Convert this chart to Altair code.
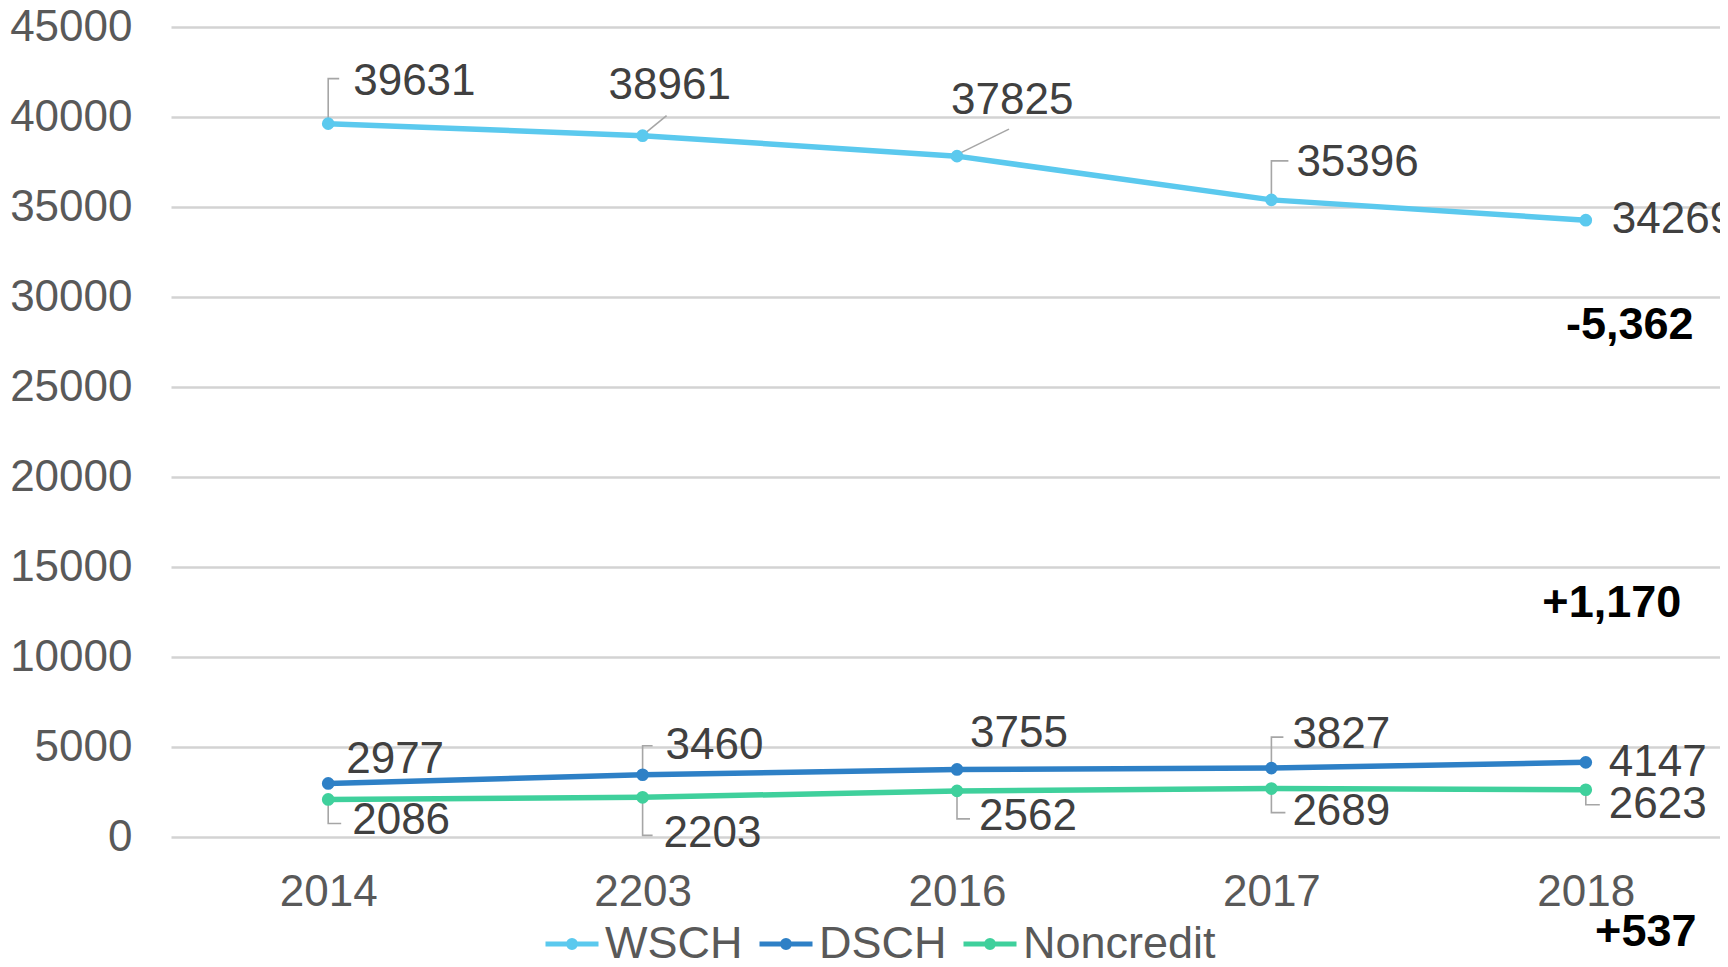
import altair as alt
import pandas as pd

# ---------------- data ----------------
YEARS = ["2014", "2203", "2016", "2017", "2018"]
SERIES = ["WSCH", "DSCH", "Noncredit"]
WSCH = [39631, 38961, 37825, 35396, 34269]
DSCH = [2977, 3460, 3755, 3827, 4147]
NONCREDIT = [2086, 2203, 2562, 2689, 2623]
Y_TICKS = [0, 5000, 10000, 15000, 20000, 25000, 30000, 35000, 40000, 45000]

ANNOT_TEXT = ["-5,362", "+1,170", "+537"]
ANNOT_VALUE = [28450, 13000, -5250]      # vertical anchor in data units

# ---------------- styling / layout ----------------
COLORS = ["#5BC9EE", "#2E80C6", "#3FD09C"]
FONT = "Liberation Sans"
FS = 44
TEXT_COLOR = "#404040"
AXIS_COLOR = "#595959"
LEADER = "#A6A6A6"

# label offsets (px) relative to each point: (dx to left edge, dy to middle)
LABEL_OFFSETS = {
    "WSCH": [(25, -42), (-34, -50), (-6, -55), (25, -37), (26, 0)],
    "DSCH": [(18, -23), (23, -29), (13, -35), (21, -33), (23, 1)],
    "Noncredit": [(24, 22), (21, 37), (22, 26), (21, 23), (23, 15)],
}
# leader line shapes (px, relative to point); None = no leader
LEADERS = {
    "WSCH": ["M0,-3L0,-45L11,-45", "M2,-2L24,-20", "M3,-3L52,-27", "M0,-3L0,-39L17,-39", None],
    "DSCH": [None, "M0,-3L0,-29L10,-29", None, "M0,-3L0,-31L12,-31", None],
    "Noncredit": ["M0,3L0,24L13,24", "M0,3L0,38L10,38", "M0,3L0,28L13,28",
                  "M0,3L0,24L14,24", "M0,3L0,15L14,15"],
}
ANNOT_DX = [44, 26, 60]

vals = {"WSCH": WSCH, "DSCH": DSCH, "Noncredit": NONCREDIT}
rows = []
for s in SERIES:
    for i, y in enumerate(YEARS):
        rows.append({"series": s, "year": y, "value": vals[s][i], "idx": i})
df = pd.DataFrame(rows)

PLOT_W, PLOT_H = 1549, 810
year_expr = "[" + ",".join("'%s'" % y for y in YEARS) + "][datum.value]"
x_enc = alt.X(
    "idx:Q",
    scale=alt.Scale(domain=[-0.5, len(YEARS) - 0.5], range=[0, 1572], nice=False, zero=False),
    axis=alt.Axis(
        title=None, domain=False, ticks=False, grid=False, labelAngle=0,
        values=list(range(len(YEARS))), labelExpr=year_expr,
        labelFlush=False, labelOverlap=False,
        labelFont=FONT, labelFontSize=FS, labelColor=AXIS_COLOR, labelPadding=33,
    ),
)
y_enc = alt.Y(
    "value:Q",
    scale=alt.Scale(domain=[0, 45000], nice=False),
    axis=alt.Axis(
        title=None, domain=False, ticks=False, values=Y_TICKS, format="d",
        grid=True, gridColor="#D3D3D3", gridWidth=2.5,
        labelFont=FONT, labelFontSize=FS, labelColor=AXIS_COLOR, labelPadding=39,
    ),
)
color_scale = alt.Scale(domain=SERIES, range=COLORS)

LEG_PATH = ("M-1,0L1,0"
            "M-0.132,0A0.132,0.132 0 1,0 0.132,0A0.132,0.132 0 1,0 -0.132,0"
            "M-0.057,0A0.057,0.057 0 1,0 0.057,0A0.057,0.057 0 1,0 -0.057,0")

base = alt.Chart(df)

layers = []
# leader lines
for s in SERIES:
    for i, path in enumerate(LEADERS[s]):
        if path is None:
            continue
        layers.append(
            base.transform_filter((alt.datum.series == s) & (alt.datum.idx == i))
            .mark_point(shape=path, size=4, filled=False, stroke=LEADER, strokeWidth=1.6, opacity=1)
            .encode(x=x_enc, y=y_enc)
        )

lines = base.mark_line(strokeWidth=5.5).encode(
    x=x_enc, y=y_enc,
    color=alt.Color(
        "series:N", scale=color_scale, sort=SERIES,
        legend=alt.Legend(
            title=None, orient="none", direction="horizontal",
            legendX=372, legendY=888,
            symbolType=LEG_PATH, symbolSize=2809, symbolStrokeWidth=5,
            labelFont=FONT, labelFontSize=45, labelColor=AXIS_COLOR,
            labelLimit=400, labelOffset=4, columnPadding=6,
        ),
    ),
    order="idx:Q",
)
points = base.mark_circle(size=160, opacity=1).encode(
    x=x_enc, y=y_enc,
    color=alt.Color("series:N", scale=color_scale, legend=None),
)
layers += [lines, points]

# data labels
for s in SERIES:
    for i, (dx, dy) in enumerate(LABEL_OFFSETS[s]):
        layers.append(
            base.transform_filter((alt.datum.series == s) & (alt.datum.idx == i))
            .mark_text(align="left", baseline="middle", dx=dx, dy=dy,
                       font=FONT, fontSize=FS, color=TEXT_COLOR)
            .encode(x=x_enc, y=y_enc, text="value:Q")
        )

# change annotations
adf = pd.DataFrame({"idx": [len(YEARS) - 1] * 3, "value": ANNOT_VALUE, "label": ANNOT_TEXT,
                    "k": list(range(3))})
for k in range(3):
    layers.append(
        alt.Chart(adf).transform_filter(alt.datum.k == k)
        .mark_text(align="center", baseline="middle", dx=ANNOT_DX[k],
                   font=FONT, fontSize=45, fontWeight="bold", color="#000000")
        .encode(x=x_enc, y=y_enc, text="label:N")
    )

chart = alt.layer(*layers).properties(
    width=PLOT_W, height=PLOT_H,
    autosize=alt.AutoSizeParams(type="none"),
    padding={"left": 163, "top": 19, "right": 0, "bottom": 122},
).configure_view(stroke=None)

chart.save("out.html", embed_options={"renderer": "svg", "actions": False})
